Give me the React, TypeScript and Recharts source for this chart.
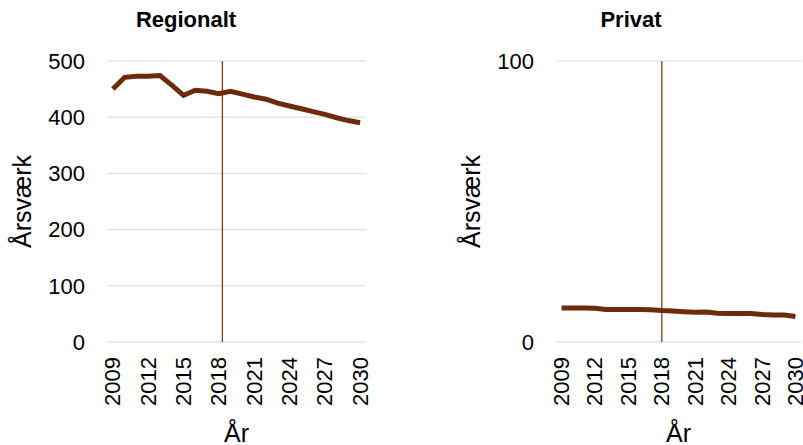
import React from "react";
import {
  LineChart,
  Line,
  XAxis,
  YAxis,
  CartesianGrid,
  ReferenceLine,
} from "recharts";

const years = [
  2009, 2010, 2011, 2012, 2013, 2014, 2015, 2016, 2017, 2018, 2019, 2020,
  2021, 2022, 2023, 2024, 2025, 2026, 2027, 2028, 2029, 2030,
];

const regionalValues = [
  450, 471, 473, 473, 474, 457, 439, 448, 446, 442, 446, 441, 436, 432, 425,
  420, 415, 410, 405, 399, 394, 390,
];

const privateValues = [
  12.1, 12.1, 12.1, 12, 11.6, 11.6, 11.6, 11.6, 11.5, 11.2, 11, 10.8, 10.6,
  10.7, 10.2, 10.1, 10.1, 10.1, 9.8, 9.6, 9.6, 9.1,
];

const yearTicks = [2009, 2012, 2015, 2018, 2021, 2024, 2027, 2030];
const regionalTicks = [0, 100, 200, 300, 400, 500];
const privateTicks = [0, 100];

const FONT = "'Liberation Sans', Arial, sans-serif";
const LINE_COLOR = "#6e2b0c";
const MARKER_COLOR = "#8b3a1a";

const toRows = (values: number[]) =>
  years.map((year, i) => ({ year, value: values[i] }));

const YearTick = (props: any) => {
  const { x, y, payload } = props;
  return (
    <text
      x={x}
      y={y}
      transform={`rotate(-90, ${x}, ${y})`}
      textAnchor="end"
      dominantBaseline="central"
      fontFamily={FONT}
      fontSize={22}
      fill="#000"
    >
      {payload.value}
    </text>
  );
};

const yTitle = (props: any) => {
  const vb = props.viewBox;
  const x = vb.x + vb.width - 85;
  const y = vb.y + vb.height / 2;
  return (
    <text
      x={x}
      y={y}
      transform={`rotate(-90, ${x}, ${y})`}
      textAnchor="middle"
      dominantBaseline="central"
      fontFamily={FONT}
      fontSize={25}
      fill="#000"
    >
      Årsværk
    </text>
  );
};

const xTitle = (props: any) => {
  const vb = props.viewBox;
  return (
    <text
      x={vb.x + vb.width / 2}
      y={vb.y + 100}
      textAnchor="middle"
      fontFamily={FONT}
      fontSize={25}
      fill="#000"
    >
      År
    </text>
  );
};

interface PanelProps {
  values: number[];
  ticks: number[];
  yMax: number;
  marker: number;
  width: number;
  axisWidth: number;
  rightMargin: number;
}

const Panel: React.FC<PanelProps> = ({
  values,
  ticks,
  yMax,
  marker,
  width,
  axisWidth,
  rightMargin,
}) => (
  <LineChart
    width={width}
    height={445}
    data={toRows(values)}
    margin={{ top: 61, right: rightMargin, bottom: 0, left: 0 }}
  >
    <CartesianGrid vertical={false} stroke="#d9d9d9" strokeWidth={1} />
    <XAxis
      dataKey="year"
      type="number"
      domain={[2008.5, 2030.5]}
      ticks={yearTicks}
      axisLine={false}
      tickLine={false}
      tickSize={0}
      tickMargin={15}
      height={103}
      interval={0}
      tick={<YearTick />}
      label={{ content: xTitle }}
    />
    <YAxis
      domain={[0, yMax]}
      ticks={ticks}
      width={axisWidth}
      axisLine={false}
      tickLine={false}
      tickMargin={16}
      tick={{ fontFamily: FONT, fontSize: 22, fill: "#000" }}
      label={{ content: yTitle }}
    />
    <ReferenceLine x={marker} stroke={MARKER_COLOR} strokeWidth={1.3} />
    <Line
      type="linear"
      dataKey="value"
      stroke={LINE_COLOR}
      strokeWidth={5}
      dot={false}
      isAnimationActive={false}
    />
  </LineChart>
);

export default function App() {
  return (
    <div
      style={{
        position: "absolute",
        left: 0,
        top: 0,
        width: 803,
        height: 445,
        background: "#fff",
        overflow: "hidden",
      }}
    >
      <div style={{ position: "absolute", left: 0, top: 0 }}>
        <Panel
          values={regionalValues}
          ticks={regionalTicks}
          yMax={500}
          marker={2018.3}
          width={380}
          axisWidth={107}
          rightMargin={14}
        />
      </div>
      <div style={{ position: "absolute", left: 400, top: 0 }}>
        <Panel
          values={privateValues}
          ticks={privateTicks}
          yMax={100}
          marker={2018}
          width={403}
          axisWidth={156}
          rightMargin={2}
        />
      </div>
      <svg
        width={803}
        height={40}
        style={{ position: "absolute", left: 0, top: 0, pointerEvents: "none" }}
      >
        <text
          x={186}
          y={27}
          textAnchor="middle"
          fontFamily={FONT}
          fontWeight="bold"
          fontSize={22}
          fill="#000"
        >
          Regionalt
        </text>
        <text
          x={631}
          y={27}
          textAnchor="middle"
          fontFamily={FONT}
          fontWeight="bold"
          fontSize={22}
          fill="#000"
        >
          Privat
        </text>
      </svg>
    </div>
  );
}
